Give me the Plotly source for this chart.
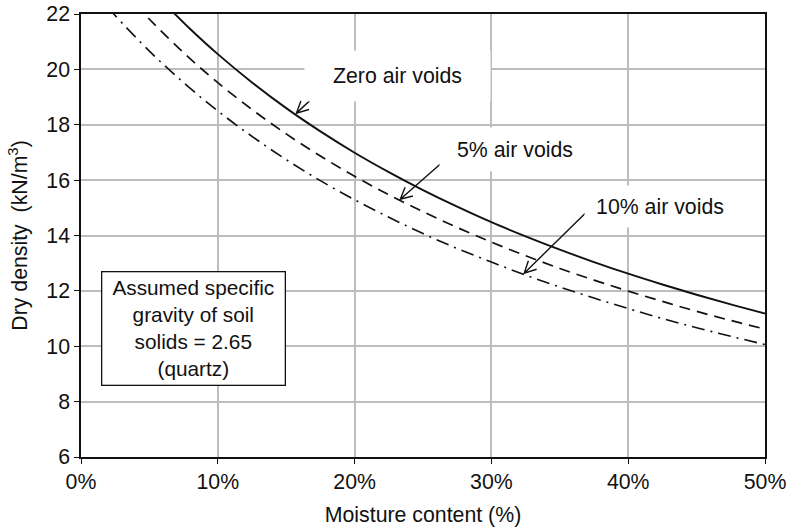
import math
import plotly.graph_objects as go

# Dry density (kN/m3) against moisture content for three air-void contents
moisture_zero = [0.065, 0.08, 0.10, 0.125, 0.15, 0.175, 0.20, 0.225, 0.25, 0.275,
                 0.30, 0.325, 0.35, 0.375, 0.40, 0.425, 0.45, 0.475, 0.50]
density_zero = [22.18, 21.45, 20.55, 19.53, 18.60, 17.76, 16.99, 16.29, 15.64, 15.04,
                14.48, 13.97, 13.49, 13.04, 12.62, 12.23, 11.86, 11.51, 11.18]

moisture_5 = [0.04, 0.05, 0.075, 0.10, 0.125, 0.15, 0.175, 0.20, 0.225, 0.25, 0.275,
              0.30, 0.325, 0.35, 0.375, 0.40, 0.425, 0.45, 0.475, 0.50]
density_5 = [22.33, 21.81, 20.60, 19.52, 18.55, 17.67, 16.87, 16.14, 15.47, 14.86, 14.29,
             13.76, 13.27, 12.81, 12.39, 11.99, 11.62, 11.26, 10.93, 10.62]

moisture_10 = [0.02, 0.025, 0.05, 0.075, 0.10, 0.125, 0.15, 0.175, 0.20, 0.225, 0.25,
               0.275, 0.30, 0.325, 0.35, 0.375, 0.40, 0.425, 0.45, 0.475, 0.50]
density_10 = [22.22, 21.94, 20.66, 19.52, 18.50, 17.58, 16.74, 15.98, 15.29, 14.66, 14.07,
              13.53, 13.04, 12.57, 12.14, 11.74, 11.36, 11.00, 10.67, 10.36, 10.06]

x_ticks = [0, 0.1, 0.2, 0.3, 0.4, 0.5]
y_ticks = [6, 8, 10, 12, 14, 16, 18, 20, 22]

FONT = "Liberation Sans, Arial, Helvetica, sans-serif"
FS = 21.3
INK = "#111111"
GRID = "#bdbdbd"

W, H = 790, 527
M = dict(l=81, r=25, t=14, b=70)
X_RANGE = [0, 0.5]
Y_RANGE = [6, 22]

fig = go.Figure()
fig.add_trace(go.Scatter(x=moisture_zero, y=density_zero, mode="lines",
                         line=dict(color=INK, width=1.9, shape="spline"),
                         name="Zero air voids"))
fig.add_trace(go.Scatter(x=moisture_5, y=density_5, mode="lines",
                         line=dict(color=INK, width=1.7, shape="spline", dash="11px,7px"),
                         name="5% air voids"))
fig.add_trace(go.Scatter(x=moisture_10, y=density_10, mode="lines",
                         line=dict(color=INK, width=1.6, shape="spline",
                                   dash="13px,6px,2px,6px"),
                         name="10% air voids"))

# curve labels on white patches that break the grid
labels = [
    dict(text="Zero air voids", x=0.2313, y=19.76, width=185, height=50),
    dict(text="5% air voids", x=0.3174, y=17.12, width=150, height=43),
    dict(text="10% air voids", x=0.4231, y=15.06, width=150, height=41),
]
for lab in labels:
    fig.add_annotation(x=lab["x"], y=lab["y"], xref="x", yref="y", text=lab["text"],
                       showarrow=False, bgcolor="white", borderpad=0,
                       width=lab["width"], height=lab["height"],
                       font=dict(family=FONT, size=FS, color=INK))


# leader arrows with open heads, built as shape paths in data units
pw = W - M["l"] - M["r"]
ph = H - M["t"] - M["b"]
sx = pw / (X_RANGE[1] - X_RANGE[0])
sy = ph / (Y_RANGE[1] - Y_RANGE[0])


def leader(x0, y0, x1, y1, head=13, spread=27):
    dx = (x1 - x0) * sx
    dy = -(y1 - y0) * sy
    ang = math.atan2(dy, dx)
    pts = []
    for s in (-1, 1):
        a = ang + math.pi + s * math.radians(spread)
        bx = x1 + head * math.cos(a) / sx
        by = y1 - head * math.sin(a) / sy
        pts.append((bx, by))
    return (f"M{x0},{y0} L{x1},{y1} "
            f"M{pts[0][0]},{pts[0][1]} L{x1},{y1} L{pts[1][0]},{pts[1][1]}")


arrows = [
    dict(x0=0.1793, y0=19.43, x1=0.1575, y1=18.42),
    dict(x0=0.2700, y0=16.90, x1=0.2334, y1=15.31),
    dict(x0=0.3694, y0=14.84, x1=0.3240, y1=12.64),
]
for a in arrows:
    fig.add_shape(type="path", xref="x", yref="y",
                  path=leader(a["x0"], a["y0"], a["x1"], a["y1"]),
                  line=dict(color=INK, width=1.4))

# note box
fig.add_annotation(x=0.0822, y=10.65, xref="x", yref="y",
                   text="Assumed specific<br>gravity of soil<br>solids = 2.65<br>(quartz)",
                   showarrow=False, align="center", bgcolor="white",
                   bordercolor=INK, borderwidth=1.3, borderpad=0,
                   width=182, height=112,
                   font=dict(family=FONT, size=20.8, color=INK))

fig.update_layout(
    width=W, height=H,
    margin=M,
    paper_bgcolor="white", plot_bgcolor="white",
    showlegend=False,
    font=dict(family=FONT, size=FS, color=INK),
)
fig.update_xaxes(
    range=X_RANGE, tickvals=x_ticks, tickformat=".0%",
    showgrid=True, gridcolor=GRID, gridwidth=1.5,
    showline=True, linecolor=INK, linewidth=1.5, mirror=True,
    ticks="outside", ticklen=5, tickwidth=1.3, tickcolor=INK,
    tickfont=dict(family=FONT, size=FS, color=INK),
    zeroline=False, automargin=False,
    title=dict(text="Moisture content (%)", standoff=14,
               font=dict(family=FONT, size=FS, color=INK)),
)
fig.update_yaxes(
    range=Y_RANGE, tickvals=y_ticks,
    showgrid=True, gridcolor=GRID, gridwidth=1.5,
    showline=True, linecolor=INK, linewidth=1.5, mirror=True,
    ticks="outside", ticklen=5, tickwidth=1.3, tickcolor=INK,
    tickfont=dict(family=FONT, size=FS, color=INK),
    zeroline=False, automargin=False,
    title=dict(text="Dry density  (kN/m<sup>3</sup>)", standoff=13,
               font=dict(family=FONT, size=FS, color=INK)),
)

fig.write_html("out.html")
